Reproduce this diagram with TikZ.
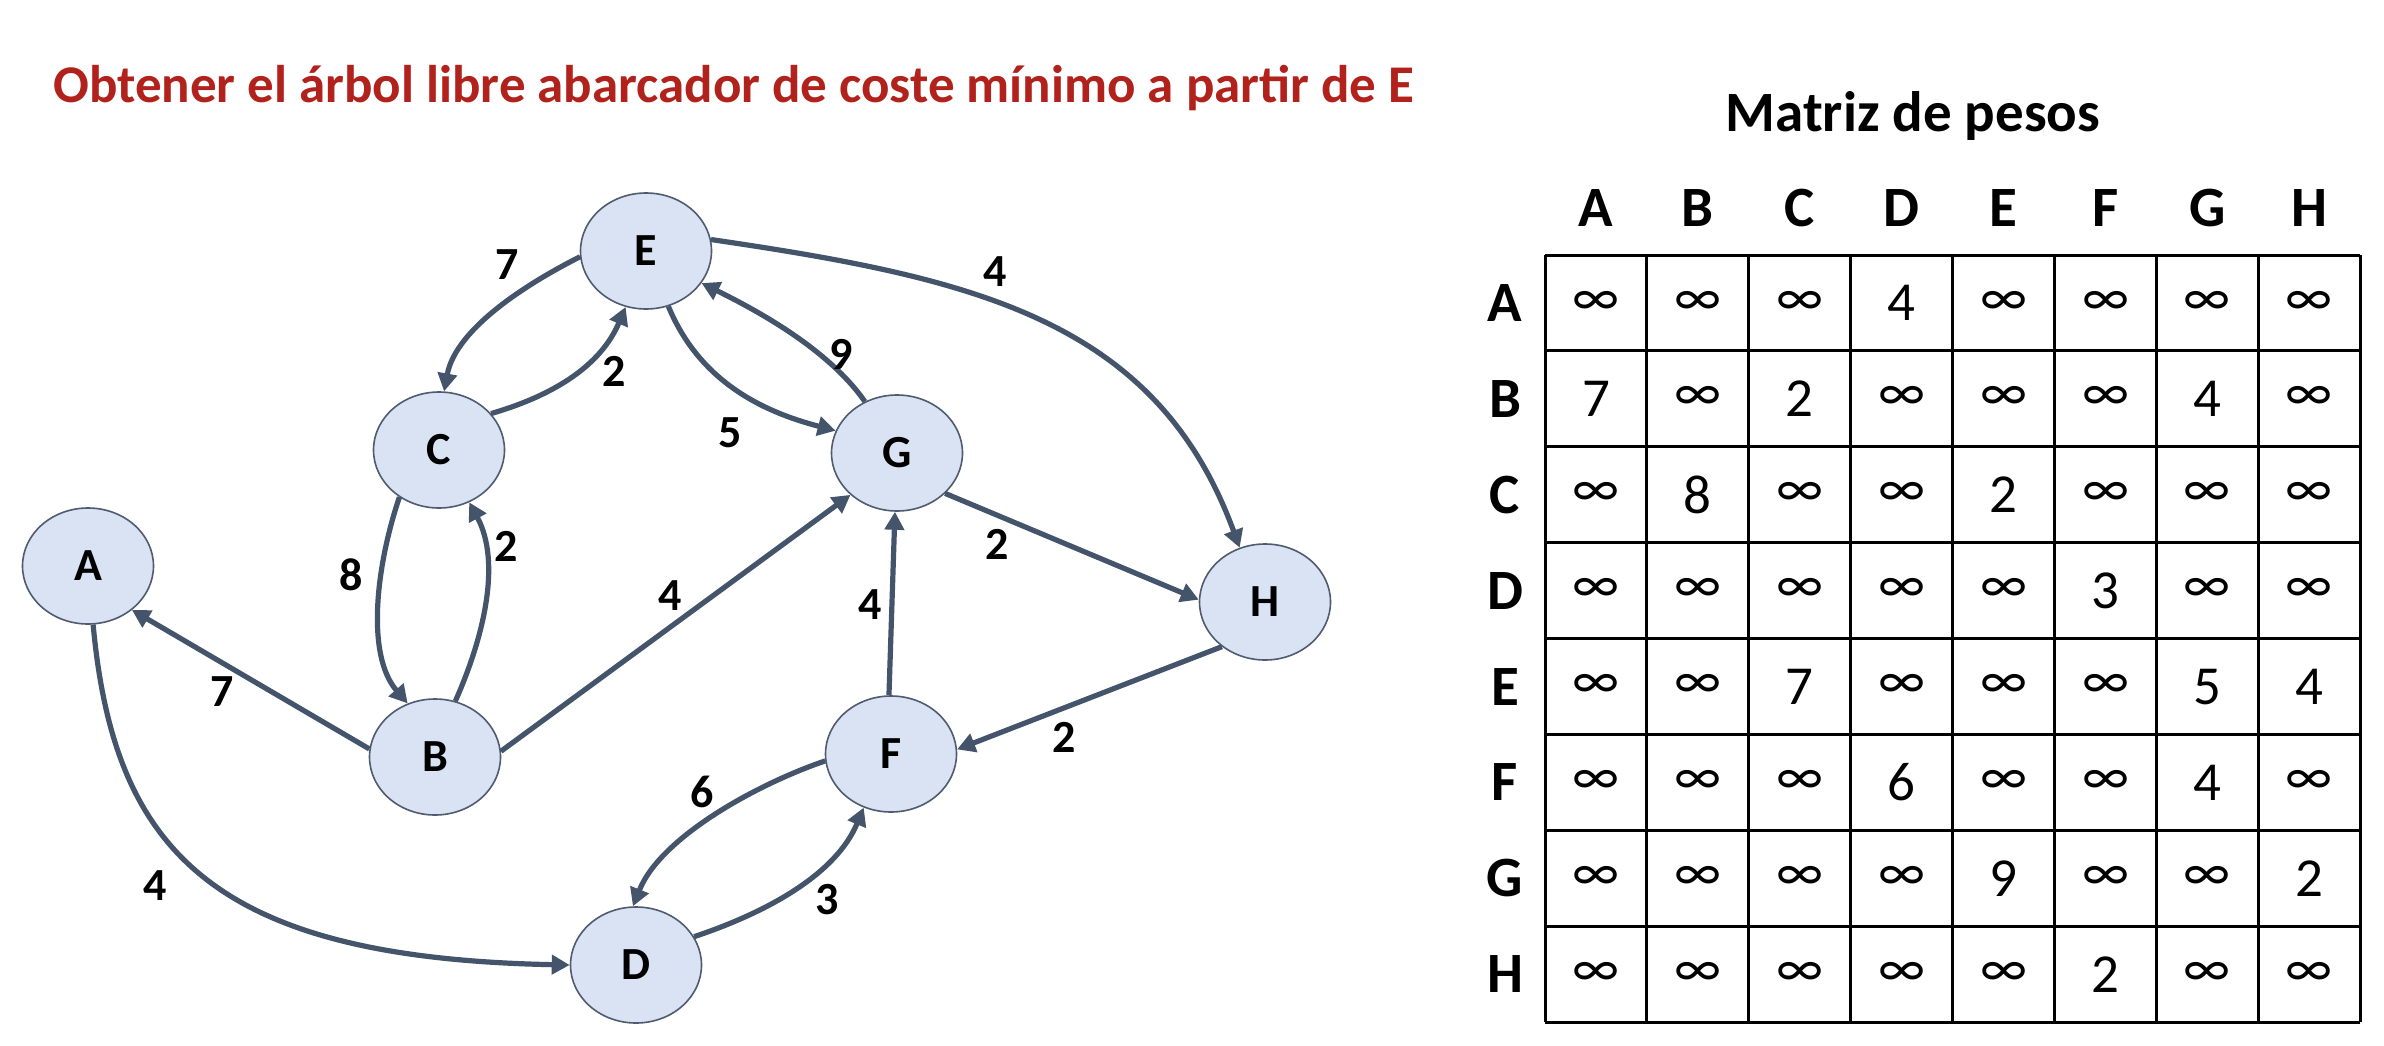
\documentclass[tikz,border=0pt]{standalone}
\usepackage{fontspec}
\setmainfont{Carlito}
\usetikzlibrary{arrows.meta,shapes.geometric}
\definecolor{titlered}{HTML}{B2221C}
\definecolor{nodefill}{HTML}{DAE3F3}
\definecolor{nodeline}{HTML}{4F5B6E}
\definecolor{edgecol}{HTML}{44546A}
\begin{document}
\begin{tikzpicture}[x=1pt,y=-1pt,
  vertex/.style={ellipse,draw=nodeline,line width=1.6pt,fill=nodefill,minimum width=131pt,minimum height=116pt,inner sep=0pt,font=\fontsize{46}{54}\selectfont\bfseries},
  conn/.style={draw=edgecol,line width=5.2pt,-{Triangle[length=18pt,width=19pt]}},
  wlabel/.style={font=\fontsize{46}{54}\selectfont\bfseries,inner sep=0pt},
  hdr/.style={font=\fontsize{57}{66}\selectfont\bfseries,inner sep=0pt},
  cellv/.style={font=\fontsize{55}{64}\selectfont,inner sep=0pt},
  gridline/.style={draw=black,line width=3pt}
]
\useasboundingbox (0,0) rectangle (2384,1046);
\fill[white] (0,0) rectangle (2384,1046);
% title
\node[font=\fontsize{53}{62}\selectfont\bfseries,text=titlered,anchor=west,inner sep=0pt] (title) at (53,88) {Obtener el árbol libre abarcador de coste mínimo a partir de E};

% vertices
\node[vertex] (E) at (646,251) {E};
\node[vertex] (C) at (439,450) {C};
\node[vertex] (A) at (88,566) {A};
\node[vertex] (B) at (435,757) {B};
\node[vertex] (G) at (897,453) {G};
\node[vertex] (H) at (1265,602) {H};
\node[vertex] (F) at (891,754) {F};
\node[vertex] (D) at (636,965) {D};

% edges
\draw[conn] (E.185) .. controls (532,281) and (456,327) .. (C.85);
\draw[conn] (C.35) .. controls (555,395) and (601,365) .. (E.250);
\draw[conn] (E.292) .. controls (699,380) and (760,411) .. (G.160);
\draw[conn] (G.122) .. controls (829,350) and (760,312) .. (E.330);
\draw[conn] (E.10) .. controls (973,278) and (1156,319) .. (H.115);
\draw[conn] (G.-40) -- (H.178);
\draw[conn] (C.230) .. controls (377,563) and (365,654) .. (B.117);
\draw[conn] (B.70) .. controls (483,639) and (502,563) .. (C.300);
\draw[conn] (B.173) -- (A.-45);
\draw[conn] (B.5) -- (G.222);
\draw[conn] (F.92) -- (G.268);
\draw[conn] (H.226) -- (F.4);
\draw[conn] (F.186) .. controls (760,783) and (661,836) .. (D.93);
\draw[conn] (D.26) .. controls (768,912) and (836,874) .. (F.243);
\draw[conn] (A.275) .. controls (114,851) and (213,958) .. (D.180);

% weights
\node[wlabel] (w1) at (507,265) {7};
\node[wlabel] (w2) at (614,371) {2};
\node[wlabel] (w3) at (730,433) {5};
\node[wlabel] (w4) at (841,354) {9};
\node[wlabel] (w5) at (995,272) {4};
\node[wlabel] (w6) at (997,544) {2};
\node[wlabel] (w7) at (351,575) {8};
\node[wlabel] (w8) at (506,546) {2};
\node[wlabel] (w9) at (222,692) {7};
\node[wlabel] (w10) at (670,596) {4};
\node[wlabel] (w11) at (870,605) {4};
\node[wlabel] (w12) at (1064,737) {2};
\node[wlabel] (w13) at (702,792) {6};
\node[wlabel] (w14) at (827,900) {3};
\node[wlabel] (w15) at (155,886) {4};

% matrix
\node[hdr] (mtitle) at (1913,116) {Matriz de pesos};
\foreach \i in {0,...,8} {
  \draw[gridline] ({1545+101.9*\i},255) -- ({1545+101.9*\i},1022);
  \draw[gridline] (1545,{255+95.9*\i}) -- (2360,{255+95.9*\i});
}
\foreach \L [count=\k from 0] in {A,B,C,D,E,F,G,H} {
  \node[hdr] (col\L) at ({1596+101.9*\k},208) {\L};
  \node[hdr] (row\L) at (1505,{303+95.9*\k}) {\L};
}
\foreach \r/\vals [count=\j from 0] in {
  A/{∞,∞,∞,4,∞,∞,∞,∞},
  B/{7,∞,2,∞,∞,∞,4,∞},
  C/{∞,8,∞,∞,2,∞,∞,∞},
  D/{∞,∞,∞,∞,∞,3,∞,∞},
  E/{∞,∞,7,∞,∞,∞,5,4},
  F/{∞,∞,∞,6,∞,∞,4,∞},
  G/{∞,∞,∞,∞,9,∞,∞,2},
  H/{∞,∞,∞,∞,∞,2,∞,∞}} {
  \foreach \v [count=\k from 0] in \vals {
    \node[cellv] (cell\r\k) at ({1596+101.9*\k},{303+95.9*\j}) {\v};
  }
}
\end{tikzpicture}
\end{document}
